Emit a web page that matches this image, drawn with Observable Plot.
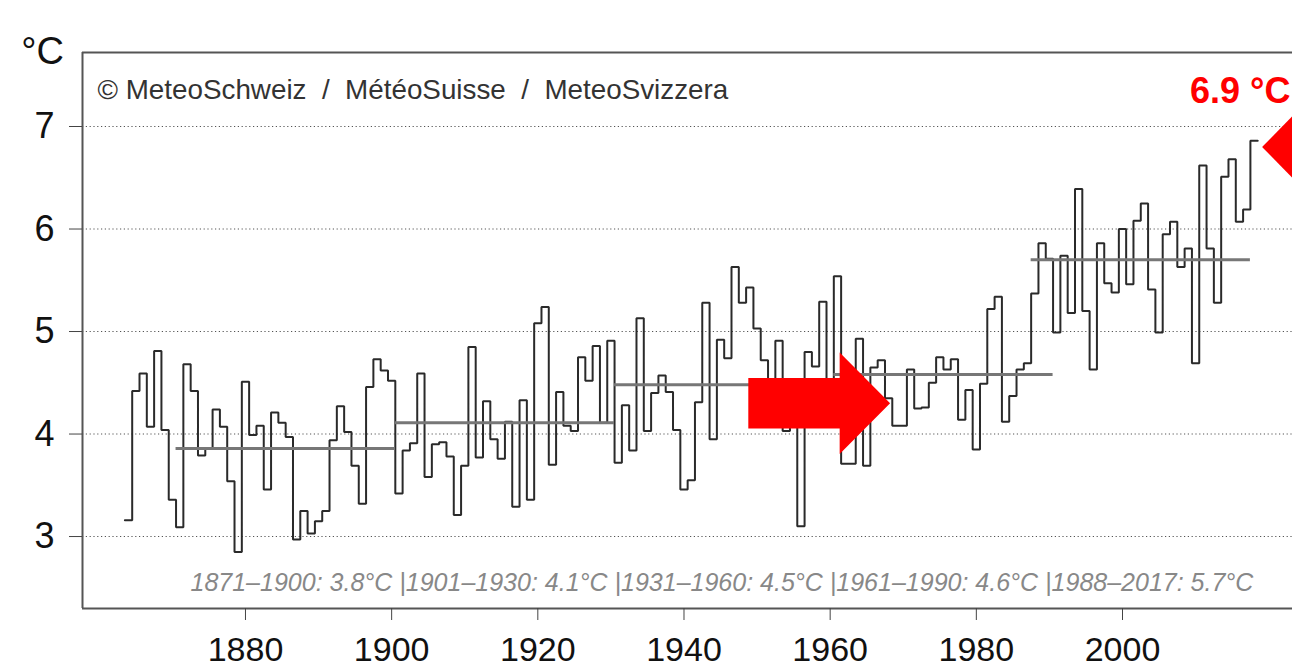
<!DOCTYPE html>
<html><head><meta charset="utf-8">
<script src="https://cdn.jsdelivr.net/npm/d3@7"></script>
<script src="https://cdn.jsdelivr.net/npm/@observablehq/plot@0.6"></script>
<style>
html,body{margin:0;padding:0;background:#fff;overflow:hidden;}
#chart svg{display:block;}
</style></head><body><div id="chart"></div>
<script>
// Annual mean temperature, Switzerland (°C), 1864–2018
const firstYear = 1864;
const temps = [
  3.16,4.42,4.59,4.07,4.81,4.04,3.36,3.09,4.68,4.42, // 1864-1873
  3.79,3.86,4.24,4.07,3.54,2.85,4.51,3.99,4.08,3.46, // 1874-1883
  4.21,4.11,3.97,2.97,3.25,3.03,3.15,3.25,3.94,4.27, // 1884-1893
  4.02,3.69,3.32,4.46,4.73,4.62,4.52,3.42,3.84,3.91, // 1894-1903
  4.59,3.58,3.90,3.92,3.78,3.21,3.69,4.85,3.77,4.32, // 1904-1913
  3.95,3.76,4.12,3.29,4.33,3.36,5.08,5.24,3.70,4.41, // 1914-1923
  4.08,4.03,4.75,4.52,4.86,4.11,4.91,3.72,4.28,3.84, // 1924-1933
  5.13,4.03,4.40,4.57,4.41,4.04,3.46,3.55,4.31,5.28, // 1934-1943
  3.95,4.92,4.74,5.63,5.28,5.43,5.03,4.72,4.45,4.91, // 1944-1953
  4.03,4.30,3.10,4.80,4.66,5.29,4.50,5.54,3.71,3.71, // 1954-1963
  4.93,3.69,4.65,4.72,4.35,4.08,4.08,4.63,4.25,4.26, // 1964-1973
  4.50,4.75,4.63,4.73,4.14,4.43,3.85,4.49,5.22,5.34, // 1974-1983
  4.12,4.37,4.63,4.69,5.37,5.86,5.71,4.99,5.74,5.18, // 1984-1993
  6.39,5.20,4.63,5.86,5.47,5.38,6.00,5.46,6.08,6.25, // 1994-2003
  5.41,4.99,5.95,6.07,5.63,5.81,4.69,6.62,5.81,5.28, // 2004-2013
  6.51,6.68,6.07,6.19,6.86                            // 2014-2018
];
const years = temps.map((_, i) => firstYear + i);

// 30-year normal periods
const periodStart = [1871, 1901, 1931, 1961, 1988];
const periodEnd   = [1900, 1930, 1960, 1990, 2017];
const periodMean  = [3.86, 4.11, 4.48, 4.58, 5.70];
const periodText  = ["1871–1900: 3.8°C", "1901–1930: 4.1°C", "1931–1960: 4.5°C", "1961–1990: 4.6°C", "1988–2017: 5.7°C"];

const xTicks = [1880, 1900, 1920, 1940, 1960, 1980, 2000];
const yTicks = [3, 4, 5, 6, 7];
const xDomain = [1857.7, 2023.26];
const yDomain = [2.298, 7.722];

const unitLabel = "°C";
const copyright = "© MeteoSchweiz\u00a0\u00a0/\u00a0\u00a0MétéoSuisse\u00a0\u00a0/\u00a0\u00a0MeteoSvizzera";
const latestLabel = "6.9 °C";

// annotation shapes (in data units)
const arrow = {start: 1948.8, headBase: 1961.3, tip: 1968.2, y: 4.30, shaft: 0.247, head: 0.496};
const marker = {tip: 2019.1, y: 6.80, base: 2026, half: 0.50};

// derived geometry
const stepPts = years.flatMap((yr, i) => [{x: yr - 0.5, v: temps[i]}, {x: yr + 0.5, v: temps[i]}]);
const means = periodMean.map((m, i) => ({x1: periodStart[i] - 0.5, x2: periodEnd[i] + 0.5, y: m}));
const arrowPoly = [
  {x: arrow.start, y: arrow.y - arrow.shaft},
  {x: arrow.headBase, y: arrow.y - arrow.shaft},
  {x: arrow.headBase, y: arrow.y - arrow.head},
  {x: arrow.tip, y: arrow.y},
  {x: arrow.headBase, y: arrow.y + arrow.head},
  {x: arrow.headBase, y: arrow.y + arrow.shaft},
  {x: arrow.start, y: arrow.y + arrow.shaft}
];
const markerPoly = [
  {x: marker.tip, y: marker.y},
  {x: marker.base, y: marker.y + marker.half},
  {x: marker.base, y: marker.y - marker.half}
];
const footer = periodText.join(" |");

const chart = Plot.plot({
  width: 1292,
  height: 670,
  marginLeft: 82,
  marginRight: 0,
  marginTop: 52,
  marginBottom: 62,
  style: {fontFamily: "'Liberation Sans', Arial, sans-serif", background: "#fff"},
  x: {domain: xDomain},
  y: {domain: yDomain},
  marks: [
    Plot.ruleY(yTicks, {stroke: "#555", strokeWidth: 1.1, strokeDasharray: "1.2,2.6"}),
    Plot.line(stepPts, {x: "x", y: "v", stroke: "#2a2a2a", strokeWidth: 2, strokeLinejoin: "miter"}),
    Plot.ruleY(means, {x1: "x1", x2: "x2", y: "y", stroke: "#777", strokeWidth: 3}),
    Plot.ruleX([xDomain[0]], {stroke: "#555", strokeWidth: 2}),
    Plot.ruleY(yDomain, {stroke: "#555", strokeWidth: 2}),
    Plot.axisX(xTicks, {tickSize: 12, tickPadding: 16, tickFormat: d => String(d), fontSize: 34, fill: "#111", stroke: "#444", label: null}),
    Plot.axisY(yTicks, {tickSize: 13, tickPadding: 15, tickFormat: d => String(d), fontSize: 36, fill: "#111", stroke: "#444", label: null}),
    Plot.line(arrowPoly, {x: "x", y: "y", fill: "#ff0000", stroke: "none", curve: "linear-closed"}),
    Plot.line(markerPoly, {x: "x", y: "y", fill: "#ff0000", stroke: "none", curve: "linear-closed", clip: true}),
    Plot.text([unitLabel], {frameAnchor: "top-left", dx: -40, dy: -1, textAnchor: "middle", lineAnchor: "middle", fontSize: 38, fill: "#111"}),
    Plot.text([copyright], {frameAnchor: "top-left", dx: 15, dy: 38, textAnchor: "start", lineAnchor: "middle", fontSize: 27.8, fill: "#333"}),
    Plot.text([latestLabel], {frameAnchor: "top-right", dx: -2, dy: 39, textAnchor: "end", lineAnchor: "middle", fontSize: 36, fontWeight: "bold", fill: "#ff0000"}),
    Plot.text([footer], {frameAnchor: "bottom-left", dx: 108, dy: -26, textAnchor: "start", lineAnchor: "middle", fontSize: 25, fontStyle: "italic", fill: "#888"})
  ]
});
document.getElementById("chart").appendChild(chart);
</script>
</body></html>
